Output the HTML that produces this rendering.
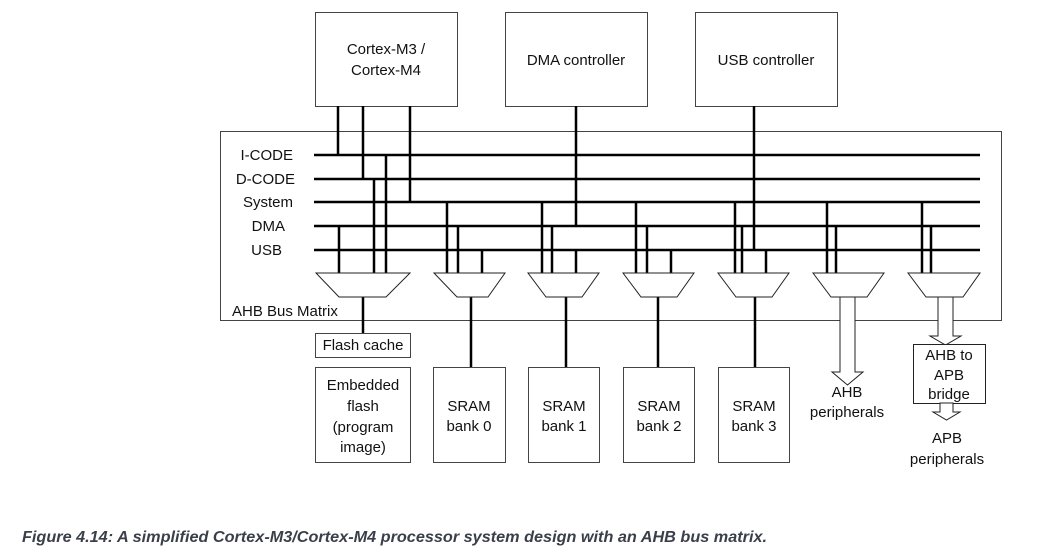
<!DOCTYPE html>
<html><head><meta charset="utf-8"><style>
html,body{margin:0;padding:0;background:#fff;}
svg{display:block;font-family:"Liberation Sans",sans-serif;}
</style></head><body>
<svg width="1043" height="558" viewBox="0 0 1043 558" xmlns="http://www.w3.org/2000/svg">
<g fill="#fff" stroke="#444" stroke-width="1">
<rect x="315.5" y="12.5" width="142" height="94"/>
<rect x="505.5" y="12.5" width="142" height="94"/>
<rect x="695.5" y="12.5" width="142" height="94"/>
<rect x="220.5" y="131.5" width="781" height="189"/>
<rect x="315.5" y="333.5" width="95" height="24"/>
<rect x="315.5" y="367.5" width="95" height="95"/>
<rect x="433.5" y="367.5" width="72" height="95"/>
<rect x="528.5" y="367.5" width="71" height="95"/>
<rect x="623.5" y="367.5" width="71" height="95"/>
<rect x="718.5" y="367.5" width="71" height="95"/>
</g>
<g stroke="#000" stroke-width="2.5" fill="none">
<line x1="314" y1="155" x2="980" y2="155"/>
<line x1="314" y1="179" x2="980" y2="179"/>
<line x1="314" y1="202" x2="980" y2="202"/>
<line x1="314" y1="226" x2="980" y2="226"/>
<line x1="314" y1="250" x2="980" y2="250"/>
<line x1="338" y1="106" x2="338" y2="155"/>
<line x1="363" y1="106" x2="363" y2="179"/>
<line x1="410" y1="106" x2="410" y2="202"/>
<line x1="576" y1="106" x2="576" y2="226"/>
<line x1="754" y1="106" x2="754" y2="250"/>
<line x1="339" y1="226" x2="339" y2="273"/>
<line x1="374" y1="179" x2="374" y2="273"/>
<line x1="386" y1="155" x2="386" y2="273"/>
<line x1="447" y1="202" x2="447" y2="273"/><line x1="458" y1="226" x2="458" y2="273"/><line x1="482" y1="250" x2="482" y2="273"/>
<line x1="542" y1="202" x2="542" y2="273"/><line x1="552" y1="226" x2="552" y2="273"/><line x1="576" y1="250" x2="576" y2="273"/>
<line x1="636" y1="202" x2="636" y2="273"/><line x1="647" y1="226" x2="647" y2="273"/><line x1="671" y1="250" x2="671" y2="273"/>
<line x1="735" y1="202" x2="735" y2="273"/><line x1="742" y1="226" x2="742" y2="273"/><line x1="766" y1="250" x2="766" y2="273"/>
<line x1="827" y1="202" x2="827" y2="273"/><line x1="836" y1="226" x2="836" y2="273"/>
<line x1="922" y1="202" x2="922" y2="273"/><line x1="931" y1="226" x2="931" y2="273"/>
<line x1="363" y1="297" x2="363" y2="333"/>
<line x1="471" y1="297" x2="471" y2="367"/>
<line x1="566" y1="297" x2="566" y2="367"/>
<line x1="658" y1="297" x2="658" y2="367"/>
<line x1="755" y1="297" x2="755" y2="367"/>
</g>
<g fill="#fff" stroke="#222" stroke-width="1">
<polygon points="316,273 410,273 386,297 339,297"/>
<polygon points="434,273 505,273 488,297 457,297"/>
<polygon points="528,273 599,273 582,297 546,297"/>
<polygon points="623,273 694,273 677,297 641,297"/>
<polygon points="718,273 789,273 772,297 736,297"/>
<polygon points="813,273 884,273 867,297 831,297"/>
<polygon points="908,273 980,273 963,297 926,297"/>
<polygon points="840,297 855,297 855,372 863,372 847.5,385 832,372 840,372"/>
<polygon points="938,297 953,297 953,336 961,336 945.5,345 930,336 938,336"/>
<rect x="913.5" y="344.5" width="72" height="59"/>
<polygon points="940,403 953,403 953,412 960,412 946.5,420 933,412 940,412"/>
</g>
<g font-size="15" fill="#111">
<g text-anchor="end">
<text x="293" y="160">I-CODE</text>
<text x="295" y="184">D-CODE</text>
<text x="293" y="207">System</text>
<text x="285" y="231">DMA</text>
<text x="282" y="255">USB</text>
</g>
<text x="232" y="316">AHB Bus Matrix</text>
<g text-anchor="middle">
<text x="386" y="54">Cortex-M3 /</text>
<text x="386" y="75">Cortex-M4</text>
<text x="576" y="65">DMA controller</text>
<text x="766" y="65">USB controller</text>
<text x="363" y="350">Flash cache</text>
<text x="363" y="390">Embedded</text>
<text x="363" y="411">flash</text>
<text x="363" y="432">(program</text>
<text x="363" y="452">image)</text>
<text x="469" y="411">SRAM</text><text x="469" y="431">bank 0</text>
<text x="564" y="411">SRAM</text><text x="564" y="431">bank 1</text>
<text x="659" y="411">SRAM</text><text x="659" y="431">bank 2</text>
<text x="754" y="411">SRAM</text><text x="754" y="431">bank 3</text>
<text x="847" y="397">AHB</text>
<text x="847" y="417">peripherals</text>
<text x="949" y="360">AHB to</text>
<text x="949" y="380">APB</text>
<text x="949" y="399">bridge</text>
<text x="947" y="443">APB</text>
<text x="947" y="464">peripherals</text>
</g>
</g>
<text x="22" y="542" font-size="16" font-weight="bold" font-style="italic" fill="#3a3f4a" textLength="745" lengthAdjust="spacingAndGlyphs">Figure 4.14: A simplified Cortex-M3/Cortex-M4 processor system design with an AHB bus matrix.</text>
</svg>
</body></html>
